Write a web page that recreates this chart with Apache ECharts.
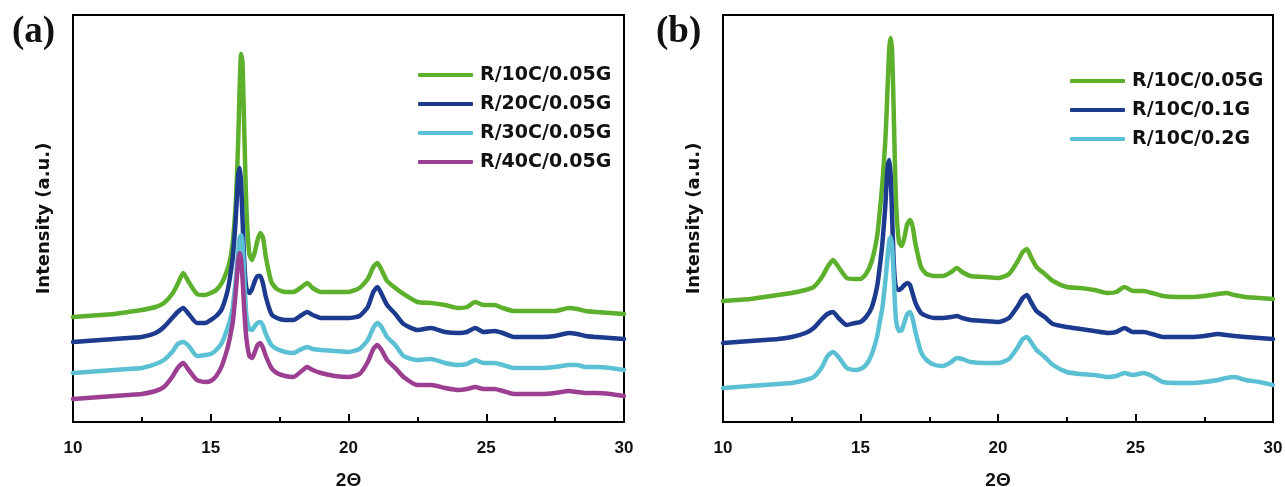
<!DOCTYPE html>
<html>
<head>
<meta charset="utf-8">
<script src="https://cdn.jsdelivr.net/npm/echarts@6/dist/echarts.min.js"></script>
<style>
  html, body { margin: 0; padding: 0; background: #fff; }
  #chart { width: 1285px; height: 487px; }
</style>
</head>
<body>
<div id="chart"></div>
<script>
// Diffraction angle grid (2θ, degrees), shared by every trace; denser round the 16° peak
const twoTheta = [10, 10.5, 11, 11.5, 12, 12.5, 13, 13.3, 13.6, 13.8, 14.0, 14.2, 14.5, 14.8, 15.0, 15.2, 15.4, 15.6, 15.7, 15.8,
  15.9, 15.95, 16.0, 16.05, 16.1, 16.15, 16.2, 16.25, 16.3, 16.4, 16.5, 16.6, 16.7, 16.8, 16.9, 17.0, 17.2, 17.4, 17.7, 18.0,
  18.3, 18.5, 18.7, 19.0, 19.5, 20.0, 20.4, 20.7, 20.9, 21.05, 21.2, 21.4, 21.7, 22.0, 22.5, 23.0, 23.5, 24.0, 24.3, 24.6,
  24.9, 25.3, 25.6, 26.0, 26.5, 27.0, 27.5, 28.0, 28.3, 28.6, 29.0, 29.5, 30.0];

const xTicks = [10, 15, 20, 25, 30];

// Panel (a): stacked intensity traces (arbitrary units, offset for display)
const namesA = ['R/10C/0.05G', 'R/20C/0.05G', 'R/30C/0.05G', 'R/40C/0.05G'];
const a10C = [105, 106, 107, 108, 110, 112, 115, 119, 128, 138, 149, 140, 128, 127, 129, 132, 139, 152, 162, 180,
  215, 245, 285, 335, 368, 360, 310, 255, 210, 168, 162, 170, 182, 189, 184, 165, 140, 133, 130, 130,
  135, 139, 134, 130, 130, 130, 134, 143, 155, 159, 152, 141, 134, 128, 120, 119, 117, 114, 115, 120,
  117, 117, 114, 111, 111, 111, 111, 114, 113, 111, 110, 109, 108];
const a20C = [80, 81, 82, 83, 84, 85, 89, 95, 104, 110, 114, 108, 99, 99, 102, 106, 113, 130, 145, 165,
  200, 225, 248, 254, 240, 205, 170, 145, 133, 129, 133, 141, 146, 146, 138, 125, 108, 104, 102, 102,
  107, 110, 107, 104, 104, 104, 106, 115, 130, 135, 128, 117, 108, 98, 92, 94, 90, 89, 90, 94,
  90, 91, 89, 85, 85, 85, 86, 89, 88, 86, 85, 84, 83];
const a30C = [49, 50, 51, 52, 53, 54, 58, 62, 70, 78, 80, 76, 66, 67, 68, 72, 79, 93, 102, 115,
  140, 155, 172, 184, 187, 180, 155, 125, 105, 93, 92, 96, 99, 100, 96, 88, 77, 73, 70, 69,
  73, 75, 73, 72, 71, 70, 73, 82, 94, 99, 95, 85, 77, 66, 62, 63, 59, 57, 58, 62,
  59, 59, 57, 54, 54, 54, 55, 57, 57, 55, 55, 54, 52];
const a40C = [23, 24, 25, 26, 27, 28, 31, 35, 45, 54, 59, 52, 42, 40, 41, 46, 56, 73, 85, 100,
  128, 145, 162, 169, 163, 145, 120, 98, 82, 66, 64, 70, 77, 79, 74, 66, 54, 49, 46, 45,
  51, 55, 52, 49, 46, 45, 48, 60, 73, 77, 72, 62, 54, 45, 37, 37, 34, 32, 33, 35,
  33, 33, 31, 28, 28, 28, 29, 31, 30, 29, 29, 28, 26];

// Panel (b)
const namesB = ['R/10C/0.05G', 'R/10C/0.1G', 'R/10C/0.2G'];
const b005G = [121, 122, 123, 125, 127, 129, 132, 135, 145, 155, 162, 155, 144, 143, 143, 148, 160, 185, 210, 240,
  280, 310, 345, 375, 384, 370, 320, 260, 215, 180, 176, 185, 198, 202, 195, 178, 155, 148, 146, 146,
  150, 154, 150, 146, 145, 144, 148, 160, 170, 173, 165, 155, 148, 141, 135, 134, 132, 129, 130, 135,
  131, 131, 129, 126, 125, 125, 126, 128, 129, 127, 125, 124, 123];
const b01G = [79, 80, 81, 82, 83, 85, 89, 94, 103, 108, 110, 104, 97, 99, 100, 105, 114, 135, 155, 180,
  215, 240, 258, 262, 245, 205, 165, 142, 134, 132, 134, 137, 139, 137, 128, 119, 109, 106, 104, 104,
  105, 106, 104, 102, 101, 100, 104, 115, 124, 127, 120, 111, 105, 98, 95, 93, 91, 89, 90, 94,
  90, 90, 88, 85, 85, 85, 86, 88, 87, 86, 85, 84, 83];
const b02G = [34, 35, 36, 37, 38, 39, 42, 45, 55, 66, 70, 65, 54, 52, 53, 57, 67, 85, 100, 115,
  140, 155, 170, 182, 185, 175, 150, 120, 100, 91, 92, 100, 108, 110, 103, 90, 70, 62, 57, 56,
  60, 64, 63, 60, 59, 59, 63, 74, 83, 85, 80, 72, 65, 57, 50, 48, 47, 45, 46, 49,
  47, 49, 46, 40, 39, 39, 40, 42, 44, 45, 42, 40, 37];

const colors = {
  green: '#5cb02c',
  navy: '#1c3a8e',
  cyan: '#5cc0d4',
  purple: '#9c3f93'
};

const pair = (ys) => twoTheta.map((x, i) => [x, ys[i]]);

const labelFont = 'Liberation Sans, Arial, sans-serif';
const nameFont = 'DejaVu Sans, sans-serif';

function xAxisFor(gridIndex) {
  return {
    type: 'value', gridIndex, min: 10, max: 30, interval: 5,
    name: '2Θ', nameLocation: 'middle', nameGap: 49,
    nameTextStyle: { fontFamily: labelFont, fontWeight: 'bold', fontSize: 19, color: '#111' },
    axisLine: { show: true, lineStyle: { color: '#000', width: 2 } },
    axisTick: { show: true, inside: true, length: 8, lineStyle: { color: '#000', width: 2 } },
    minorTick: { show: true, splitNumber: 2, length: 5, lineStyle: { color: '#000', width: 2 } },
    axisLabel: { margin: 18, fontFamily: labelFont, fontWeight: 'bold', fontSize: 17, color: '#111',
      customValues: xTicks },
    splitLine: { show: false }
  };
}

function yAxisFor(gridIndex) {
  return {
    type: 'value', gridIndex, min: 0, max: 407,
    name: 'Intensity (a.u.)', nameLocation: 'middle', nameGap: 20,
    nameTextStyle: { fontFamily: nameFont, fontWeight: 'bold', fontSize: 18, color: '#111' },
    axisLine: { show: true, lineStyle: { color: '#000', width: 2 } },
    axisTick: { show: false },
    axisLabel: { show: false },
    splitLine: { show: false }
  };
}

function trace(name, ys, color, idx) {
  return {
    type: 'line', name, xAxisIndex: idx, yAxisIndex: idx,
    data: pair(ys), showSymbol: false, smooth: 0.2,
    color, lineStyle: { color, width: 4.5, join: 'round', cap: 'round' }, itemStyle: { color },
    silent: true, animation: false
  };
}

function legendFor(names, left, top) {
  return {
    orient: 'vertical', left, top, padding: 0, data: names,
    icon: 'roundRect', itemWidth: 55, itemHeight: 4, itemGap: 7,
    selectedMode: false,
    textStyle: { fontFamily: nameFont, fontWeight: 'bold', fontSize: 19, lineHeight: 22, color: '#111',
      padding: [0, 0, 0, 2] }
  };
}

const gridBase = { show: true, borderColor: '#000', borderWidth: 2, containLabel: false, outerBoundsMode: 'none' };

const chart = echarts.init(document.getElementById('chart'), null, { renderer: 'canvas' });
chart.setOption({
  backgroundColor: '#fff',
  animation: false,
  title: [
    { text: '(a)', left: 12, top: 14, padding: 0,
      textStyle: { fontFamily: 'Liberation Serif, serif', fontWeight: 'bold', fontSize: 37, color: '#111' } },
    { text: '(b)', left: 656, top: 14, padding: 0,
      textStyle: { fontFamily: 'Liberation Serif, serif', fontWeight: 'bold', fontSize: 37, color: '#111' } }
  ],
  grid: [
    Object.assign({ left: 73, top: 15, width: 551, height: 407 }, gridBase),
    Object.assign({ left: 723, top: 15, width: 550, height: 407 }, gridBase)
  ],
  xAxis: [xAxisFor(0), xAxisFor(1)],
  yAxis: [yAxisFor(0), yAxisFor(1)],
  legend: [
    legendFor(namesA, 418, 64),
    legendFor(namesB, 1070, 70)
  ],
  series: [
    trace(namesA[0], a10C, colors.green, 0),
    trace(namesA[1], a20C, colors.navy, 0),
    trace(namesA[2], a30C, colors.cyan, 0),
    trace(namesA[3], a40C, colors.purple, 0),
    trace(namesB[0], b005G, colors.green, 1),
    trace(namesB[1], b01G, colors.navy, 1),
    trace(namesB[2], b02G, colors.cyan, 1)
  ]
});
</script>
</body>
</html>
